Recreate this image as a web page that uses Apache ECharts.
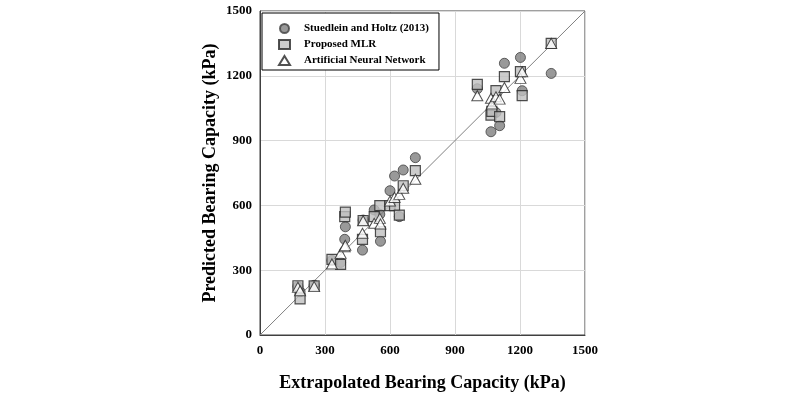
<!DOCTYPE html>
<html>
<head>
<meta charset="utf-8">
<script src="https://cdn.jsdelivr.net/npm/echarts@6/dist/echarts.min.js"></script>
<style>
  html, body { margin: 0; padding: 0; background: #fff; }
  #chart { width: 800px; height: 397px; }
</style>
</head>
<body>
<div id="chart"></div>
<script>
  // extrapolated capacity (kPa), shared by the three predictions
  const extrapolated = [175, 185, 250, 332, 372, 391, 394, 473, 476, 527, 553, 556, 600, 621, 643, 661, 717,
    1003, 1066, 1070, 1089, 1106, 1128, 1202, 1210, 1344];
  const stuedlein = [225, 200, 230, 345, 336, 443, 501, 393, 532, 579, 559, 434, 668, 736, 548, 764, 821,
    1140, 941, 1040, 1030, 969, 1258, 1285, 1131, 1211];
  const mlr = [228, 167, 227, 350, 327, 548, 569, 443, 530, 548, 599, 478, 599, 599, 555, 691, 761,
    1160, 1018, 1035, 1131, 1011, 1196, 1219, 1108, 1350];
  const ann = [221, 205, 224, 329, 378, 409, 415, 471, 529, 517, 540, 514, 620, 637, 651, 679, 721,
    1108, 1096, 1070, 1103, 1092, 1146, 1188, 1219, 1350];
  const ticks = [0, 300, 600, 900, 1200, 1500];

  const serif = 'Liberation Serif';
  const pairs = ys => extrapolated.map((x, i) => [x, ys[i]]);

  const chart = echarts.init(document.getElementById('chart'));
  chart.setOption({
    animation: false,
    grid: {
      left: 260, right: 215, top: 11, bottom: 62, outerBoundsMode: 'none', containLabel: false,
      show: true, borderColor: '#404040', borderWidth: 1
    },
    legend: {
      left: 262, top: 13,
      orient: 'vertical',
      backgroundColor: '#fff',
      borderColor: '#000',
      borderWidth: 1,
      padding: [10, 10, 4, 16],
      itemGap: 5,
      itemWidth: 11, itemHeight: 9,
      textStyle: { fontFamily: serif, fontWeight: 'bold', fontSize: 11, color: '#000', padding: [0, 0, 0, 9] },
      data: ['Stuedlein and Holtz (2013)', 'Proposed MLR', 'Artificial Neural Network']
    },
    xAxis: {
      type: 'value', min: 0, max: 1500, interval: 300,
      name: 'Extrapolated Bearing Capacity (kPa)',
      nameLocation: 'middle', nameGap: 39,
      nameTextStyle: { fontFamily: serif, fontWeight: 'bold', fontSize: 18, color: '#000' },
      axisLine: { lineStyle: { color: '#404040' } },
      axisTick: { show: false },
      axisLabel: { fontFamily: serif, fontWeight: 'bold', fontSize: 13, color: '#000', margin: 9, formatter: v => String(v) },
      splitLine: { lineStyle: { color: '#d9d9d9' } }
    },
    yAxis: {
      type: 'value', min: 0, max: 1500, interval: 300,
      name: 'Predicted Bearing Capacity (kPa)',
      nameLocation: 'middle', nameGap: 41,
      nameTextStyle: { fontFamily: serif, fontWeight: 'bold', fontSize: 18, color: '#000' },
      axisLine: { show: true, lineStyle: { color: '#404040' } },
      axisTick: { show: false },
      axisLabel: { fontFamily: serif, fontWeight: 'bold', fontSize: 13, color: '#000', margin: 8, formatter: v => String(v) },
      splitLine: { lineStyle: { color: '#d9d9d9' } }
    },
    series: [
      {
        type: 'line', data: [[ticks[0], ticks[0]], [ticks[5], ticks[5]]],
        symbol: 'none', silent: true, lineStyle: { color: '#808080', width: 1 }, z: 1
      },
      {
        name: 'Stuedlein and Holtz (2013)', type: 'scatter', data: pairs(stuedlein),
        symbol: 'circle', symbolSize: 10,
        itemStyle: { color: '#7f7f7f', borderColor: '#404040', borderWidth: 1 }, z: 2
      },
      {
        name: 'Proposed MLR', type: 'scatter', data: pairs(mlr),
        symbol: 'rect', symbolSize: 10,
        itemStyle: { color: '#bfbfbf', borderColor: '#262626', borderWidth: 1.2 }, z: 3
      },
      {
        name: 'Artificial Neural Network', type: 'scatter', data: pairs(ann),
        symbol: 'triangle', symbolSize: [11, 10],
        itemStyle: { color: '#fff', borderColor: '#262626', borderWidth: 1 }, z: 4
      }
    ]
  });
</script>
</body>
</html>
